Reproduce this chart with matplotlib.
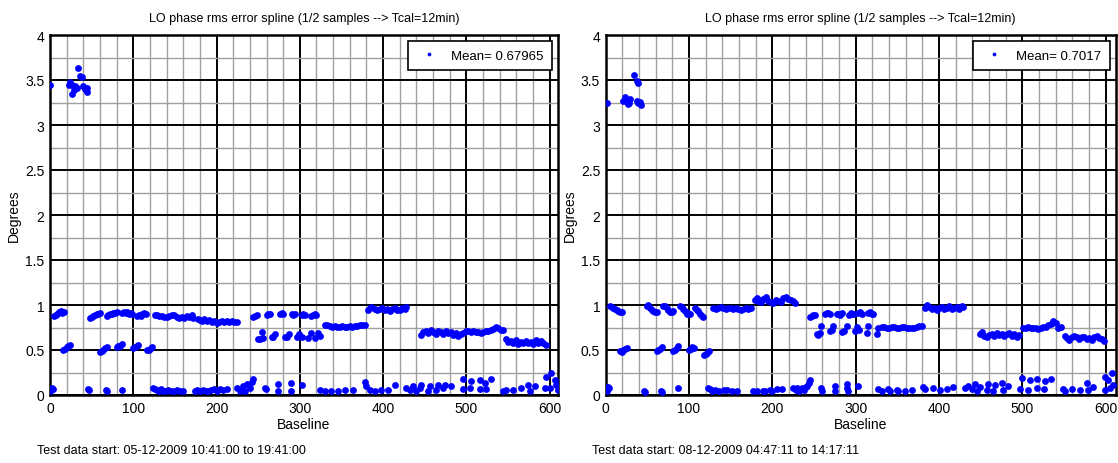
import matplotlib
matplotlib.use("Agg")
import matplotlib.pyplot as plt
from matplotlib.ticker import MultipleLocator

plt.rcParams['font.family'] = ['Liberation Sans', 'DejaVu Sans']

TITLE = "LO phase rms error spline (1/2 samples --> Tcal=12min)"
y_ticks = [0, 0.5, 1, 1.5, 2, 2.5, 3, 3.5, 4]
x_ticks = [0, 100, 200, 300, 400, 500, 600]

# ---------------- run 1: 05-12-2009 ----------------
run1_label = "Mean= 0.67965"
run1_footer = "Test data start: 05-12-2009 10:41:00 to 19:41:00"
run1_xmax = 610

run1_high_x = [0, 23, 24, 26, 27, 29, 30, 32, 34, 36, 39, 40, 42, 44, 45]
run1_high_y = [3.44, 3.44, 3.48, 3.45, 3.35, 3.39, 3.43, 3.41, 3.63, 3.55, 3.53, 3.43, 3.40, 3.37, 3.41]

run1_band_x = [5, 7, 9, 11, 13, 15, 17,
               48, 50, 52, 54, 56, 58, 60,
               68, 70, 72, 74, 76, 78, 80,
               87, 89, 91, 93, 95, 97, 99,
               105, 107, 109, 111, 113, 115,
               126, 128, 131, 134, 137, 140, 143, 146, 149, 152, 155, 158, 161, 164, 167, 170, 172,
               178, 180, 182, 185, 188, 191, 194, 197, 200, 203, 206, 209, 212, 215, 218, 221, 224,
               244, 246, 248, 260, 262, 264, 276, 278, 280, 290, 292, 294,
               302, 304, 306, 314, 316, 318, 320,
               330, 333, 336, 339, 342, 345, 348, 351, 354, 357, 360, 363, 366, 369, 372, 375, 378,
               382, 384, 386, 390, 393, 396, 399, 402, 405, 408, 411, 414, 417, 420, 423, 426, 428,
               446, 448, 451, 454, 457, 460, 463, 466, 469, 472, 475, 478, 481, 484, 487, 490, 493, 496,
               499, 502, 505, 508, 511, 514, 517, 520, 523, 526, 529, 532, 535, 538, 541, 544,
               548, 550, 553, 556, 559, 562, 565, 568, 571, 574, 577, 580, 583, 586, 589, 592, 595]
run1_band_y = [0.88, 0.89, 0.90, 0.92, 0.93, 0.91, 0.92,
               0.86, 0.87, 0.88, 0.89, 0.90, 0.90, 0.91,
               0.88, 0.89, 0.90, 0.90, 0.91, 0.91, 0.92,
               0.91, 0.92, 0.91, 0.92, 0.90, 0.91, 0.90,
               0.88, 0.89, 0.88, 0.90, 0.91, 0.90,
               0.89, 0.89, 0.88, 0.88, 0.87, 0.87, 0.88, 0.89, 0.89, 0.87, 0.86, 0.87, 0.86, 0.88, 0.87, 0.89, 0.86,
               0.85, 0.83, 0.82, 0.84, 0.82, 0.83, 0.81, 0.82, 0.80, 0.81, 0.82, 0.81, 0.82, 0.81, 0.82, 0.81, 0.81,
               0.87, 0.88, 0.89, 0.89, 0.90, 0.90, 0.90, 0.91, 0.90, 0.90, 0.89, 0.90,
               0.89, 0.90, 0.89, 0.88, 0.89, 0.90, 0.89,
               0.78, 0.78, 0.77, 0.76, 0.77, 0.76, 0.76, 0.77, 0.76, 0.76, 0.77, 0.76, 0.77, 0.77, 0.78, 0.78, 0.78,
               0.95, 0.97, 0.98, 0.96, 0.94, 0.96, 0.97, 0.95, 0.96, 0.93, 0.96, 0.97, 0.94, 0.95, 0.97, 0.96, 0.98,
               0.67, 0.70, 0.71, 0.69, 0.72, 0.70, 0.68, 0.71, 0.70, 0.68, 0.71, 0.69, 0.70, 0.67, 0.69, 0.66, 0.68, 0.69,
               0.71, 0.71, 0.70, 0.71, 0.70, 0.70, 0.69, 0.70, 0.71, 0.71, 0.72, 0.73, 0.76, 0.75, 0.72, 0.72,
               0.62, 0.59, 0.60, 0.58, 0.61, 0.57, 0.59, 0.58, 0.60, 0.58, 0.59, 0.57, 0.61, 0.58, 0.60, 0.58, 0.56]

run1_mid_x = [16, 18, 20, 22, 24, 60, 62, 64, 66, 68, 80, 82, 84, 86, 100, 102, 104, 106,
              117, 119, 121, 123,
              250, 252, 254, 256, 266, 268, 270, 282, 284, 287, 297, 299, 302,
              310, 314, 318, 322, 324]
run1_mid_y = [0.50, 0.51, 0.53, 0.55, 0.56, 0.48, 0.49, 0.50, 0.52, 0.53, 0.53, 0.54, 0.55, 0.57,
              0.52, 0.53, 0.55, 0.56, 0.50, 0.50, 0.52, 0.53,
              0.62, 0.62, 0.70, 0.63, 0.64, 0.65, 0.68, 0.65, 0.64, 0.68, 0.64, 0.68, 0.65,
              0.63, 0.69, 0.63, 0.69, 0.66]

run1_low_x = [0, 1, 2, 3, 4, 46, 47, 67, 68, 87,
              124, 126, 128, 131, 133, 136, 138, 142, 145, 149, 152, 156, 160,
              174, 177, 180, 184, 187, 190, 193, 197, 200, 204, 208, 212,
              225, 228, 232, 234, 237, 240, 242, 244,
              258, 259, 274, 274, 289, 289, 302,
              324, 330, 338, 346, 354, 364,
              378, 380, 384, 390, 398, 406, 414,
              428, 432, 436, 440, 444, 446, 454, 456, 464, 466, 472, 474, 482,
              496, 496, 504, 506, 516, 516, 522, 524, 530,
              544, 548, 556, 566, 574, 576, 582,
              594, 596, 600, 602, 606, 608, 610]
run1_low_y = [0.05, 0.06, 0.07, 0.08, 0.07, 0.07, 0.06, 0.06, 0.05, 0.06,
              0.08, 0.07, 0.06, 0.05, 0.07, 0.04, 0.05, 0.06, 0.05, 0.04, 0.06, 0.05, 0.05,
              0.05, 0.06, 0.05, 0.06, 0.04, 0.05, 0.06, 0.07, 0.05, 0.07, 0.06, 0.07,
              0.08, 0.05, 0.10, 0.05, 0.12, 0.08, 0.14, 0.18,
              0.08, 0.07, 0.12, 0.05, 0.13, 0.05, 0.11,
              0.06, 0.045, 0.05, 0.05, 0.06, 0.06,
              0.14, 0.10, 0.06, 0.045, 0.06, 0.06, 0.11,
              0.08, 0.06, 0.10, 0.05, 0.08, 0.11, 0.05, 0.10, 0.06, 0.11, 0.08, 0.11, 0.10,
              0.18, 0.07, 0.08, 0.16, 0.17, 0.07, 0.13, 0.07, 0.18,
              0.05, 0.06, 0.06, 0.08, 0.11, 0.05, 0.10,
              0.08, 0.20, 0.08, 0.24, 0.17, 0.11, 0.06]

# ---------------- run 2: 08-12-2009 ----------------
run2_label = "Mean= 0.7017"
run2_footer = "Test data start: 08-12-2009 04:47:11 to 14:17:11"
run2_xmax = 612

run2_high_x = [1, 21, 23, 25, 27, 28, 29, 34, 37, 39, 37, 39, 41, 42]
run2_high_y = [3.25, 3.27, 3.31, 3.26, 3.23, 3.24, 3.29, 3.56, 3.49, 3.47, 3.27, 3.25, 3.26, 3.22]

run2_band_x = [5, 7, 9, 11, 13, 15, 17, 19,
               49, 51, 53, 55, 57, 59, 61,
               69, 71, 73, 75, 77, 79, 81,
               89, 91, 93, 95, 97, 99, 101,
               107, 109, 111, 113, 115, 117,
               129, 132, 135, 138, 141, 144, 147, 150, 153, 156, 159, 162, 165, 168, 171, 174,
               179, 181, 183, 186, 189, 192, 195, 198, 201, 204, 207, 210, 213, 216, 219, 222, 225, 227,
               245, 247, 249, 251, 263, 265, 267, 269, 277, 279, 281, 283, 292, 294, 296, 298,
               303, 305, 307, 315, 317, 319, 321,
               331, 334, 337, 340, 343, 346, 349, 352, 355, 358, 361, 364, 367, 370, 373, 376, 379,
               383, 385, 388, 391, 394, 397, 400, 403, 406, 409, 412, 415, 418, 421, 424, 427, 429,
               449, 451, 454, 457, 460, 463, 466, 469, 472, 475, 478, 481, 484, 487, 490, 493, 496,
               501, 504, 507, 510, 513, 516, 519, 522, 525, 528, 531, 534, 537, 540, 543, 546,
               551, 553, 556, 559, 562, 565, 568, 571, 574, 577, 580, 583, 586, 589, 592, 595, 598]
run2_band_y = [0.99, 0.98, 0.97, 0.96, 0.94, 0.93, 0.92, 0.92,
               0.99, 1.00, 0.97, 0.95, 0.93, 0.92, 0.92,
               0.99, 0.99, 0.97, 0.95, 0.92, 0.92, 0.93,
               0.99, 0.98, 0.96, 0.93, 0.90, 0.91, 0.90,
               0.97, 0.95, 0.93, 0.90, 0.88, 0.87,
               0.97, 0.96, 0.97, 0.98, 0.97, 0.96, 0.97, 0.97, 0.96, 0.97, 0.96, 0.95, 0.96, 0.97, 0.96, 0.97,
               1.06, 1.08, 1.04, 1.03, 1.07, 1.09, 1.05, 1.03, 1.02, 1.06, 1.04, 1.03, 1.08, 1.09, 1.07, 1.06, 1.04, 1.02,
               0.87, 0.88, 0.89, 0.89, 0.90, 0.91, 0.91, 0.90, 0.90, 0.90, 0.89, 0.91, 0.89, 0.91, 0.90, 0.90,
               0.91, 0.92, 0.90, 0.91, 0.92, 0.90, 0.90,
               0.76, 0.76, 0.75, 0.75, 0.76, 0.76, 0.74, 0.75, 0.76, 0.76, 0.75, 0.74, 0.75, 0.75, 0.76, 0.77, 0.77,
               0.97, 1.00, 0.98, 0.96, 0.97, 0.95, 0.97, 0.98, 0.96, 0.97, 0.99, 0.96, 0.97, 0.98, 0.96, 0.99, 0.98,
               0.68, 0.70, 0.66, 0.64, 0.67, 0.68, 0.66, 0.69, 0.67, 0.68, 0.66, 0.68, 0.69, 0.66, 0.68, 0.65, 0.67,
               0.75, 0.75, 0.76, 0.75, 0.74, 0.75, 0.73, 0.74, 0.76, 0.76, 0.78, 0.79, 0.82, 0.80, 0.75, 0.76,
               0.66, 0.63, 0.61, 0.64, 0.66, 0.64, 0.62, 0.65, 0.64, 0.62, 0.63, 0.61, 0.64, 0.66, 0.63, 0.62, 0.60]

run2_mid_x = [17, 19, 21, 23, 25, 61, 63, 65, 67, 81, 83, 85, 87, 100, 102, 104, 106,
              118, 120, 122, 124,
              253, 255, 257, 258, 269, 271, 273, 284, 286, 289, 299, 301, 304,
              313, 315, 325, 327]
run2_mid_y = [0.49, 0.48, 0.50, 0.51, 0.52, 0.49, 0.50, 0.51, 0.53, 0.49, 0.50, 0.52, 0.54,
              0.50, 0.51, 0.53, 0.52, 0.45, 0.46, 0.47, 0.49,
              0.68, 0.67, 0.69, 0.77, 0.71, 0.72, 0.77, 0.70, 0.71, 0.77, 0.71, 0.76, 0.72,
              0.69, 0.77, 0.68, 0.75]

run2_low_x = [0, 1, 2, 3, 4, 46, 47, 66, 67, 87,
              123, 125, 127, 131, 136, 142, 146, 152, 157,
              177, 181, 189, 191, 197, 199, 205, 212,
              225, 228, 230, 232, 234, 236, 238, 240, 242, 244, 245,
              258, 260, 275, 275, 290, 290, 291, 303,
              327, 331, 339, 341, 349, 351, 359, 367,
              381, 383, 393, 401, 409, 417,
              431, 435, 439, 443, 445, 449, 457, 459, 465, 467, 475, 477, 483,
              497, 499, 507, 509, 517, 517, 526, 527, 534,
              549, 551, 559, 569, 577, 579, 585,
              599, 599, 603, 605, 608, 609]
run2_low_y = [0.04, 0.05, 0.07, 0.09, 0.08, 0.05, 0.03, 0.05, 0.03, 0.08,
              0.08, 0.07, 0.05, 0.06, 0.04, 0.06, 0.06, 0.05, 0.04,
              0.044, 0.05, 0.04, 0.05, 0.06, 0.04, 0.063, 0.07,
              0.08, 0.06, 0.08, 0.05, 0.07, 0.08, 0.06, 0.09, 0.10, 0.13, 0.17,
              0.08, 0.05, 0.10, 0.04, 0.12, 0.08, 0.04, 0.10,
              0.07, 0.04, 0.07, 0.04, 0.06, 0.04, 0.05, 0.06,
              0.09, 0.07, 0.08, 0.06, 0.07, 0.09,
              0.08, 0.10, 0.07, 0.12, 0.05, 0.09, 0.06, 0.12, 0.05, 0.11, 0.13, 0.06, 0.10,
              0.07, 0.19, 0.06, 0.17, 0.18, 0.08, 0.07, 0.16, 0.18,
              0.07, 0.04, 0.07, 0.06, 0.13, 0.06, 0.09,
              0.06, 0.20, 0.17, 0.08, 0.24, 0.11]

runs = [
    dict(xs=[run1_high_x, run1_band_x, run1_mid_x, run1_low_x],
         ys=[run1_high_y, run1_band_y, run1_mid_y, run1_low_y],
         label=run1_label, footer=run1_footer, xmax=run1_xmax,
         rect=[50 / 1118, 68 / 464, 508 / 1118, 360 / 464], foot_x=37 / 1118),
    dict(xs=[run2_high_x, run2_band_x, run2_mid_x, run2_low_x],
         ys=[run2_high_y, run2_band_y, run2_mid_y, run2_low_y],
         label=run2_label, footer=run2_footer, xmax=run2_xmax,
         rect=[605.7 / 1118, 68 / 464, 510 / 1118, 360 / 464], foot_x=592 / 1118),
]

fig = plt.figure(figsize=(11.18, 4.64), dpi=100)

for run in runs:
    ax = fig.add_axes(run["rect"])
    bx = [v for part in run["xs"] for v in part]
    by = [v for part in run["ys"] for v in part]
    ax.plot(bx, by, linestyle="none", marker="o", ms=4.9, mew=0,
            color="#0000ff", label=run["label"], zorder=3)

    ax.set_xlim(0, run["xmax"])
    ax.set_ylim(0, 4)
    ax.set_xticks(x_ticks)
    ax.set_yticks(y_ticks)
    ax.set_yticklabels([f"{t:g}" for t in y_ticks])
    ax.xaxis.set_minor_locator(MultipleLocator(20))
    ax.yaxis.set_minor_locator(MultipleLocator(0.25))
    ax.set_axisbelow(True)
    ax.grid(which="minor", color="#a0a0a0", linewidth=1.0)
    ax.grid(which="major", color="black", linewidth=1.4)
    ax.tick_params(which="both", length=0, labelsize=10, pad=4)
    for sp in ax.spines.values():
        sp.set_linewidth(1.8)
        sp.set_color("black")

    ax.set_title(TITLE, fontsize=9, pad=10)
    ax.set_xlabel("Baseline", fontsize=10, labelpad=2)
    ax.set_ylabel("Degrees", fontsize=10, labelpad=3)

    leg = ax.legend(loc="upper right", fontsize=9.5, markerscale=0.55,
                    frameon=True, fancybox=False, framealpha=1,
                    edgecolor="black", borderaxespad=0.45,
                    handlelength=1.8, handletextpad=0.8, borderpad=0.65)
    leg.get_frame().set_linewidth(1.2)

    fig.text(run["foot_x"], 13 / 464, run["footer"], fontsize=9,
             ha="left", va="center")

fig.savefig("out.png", dpi=100, facecolor="white")
